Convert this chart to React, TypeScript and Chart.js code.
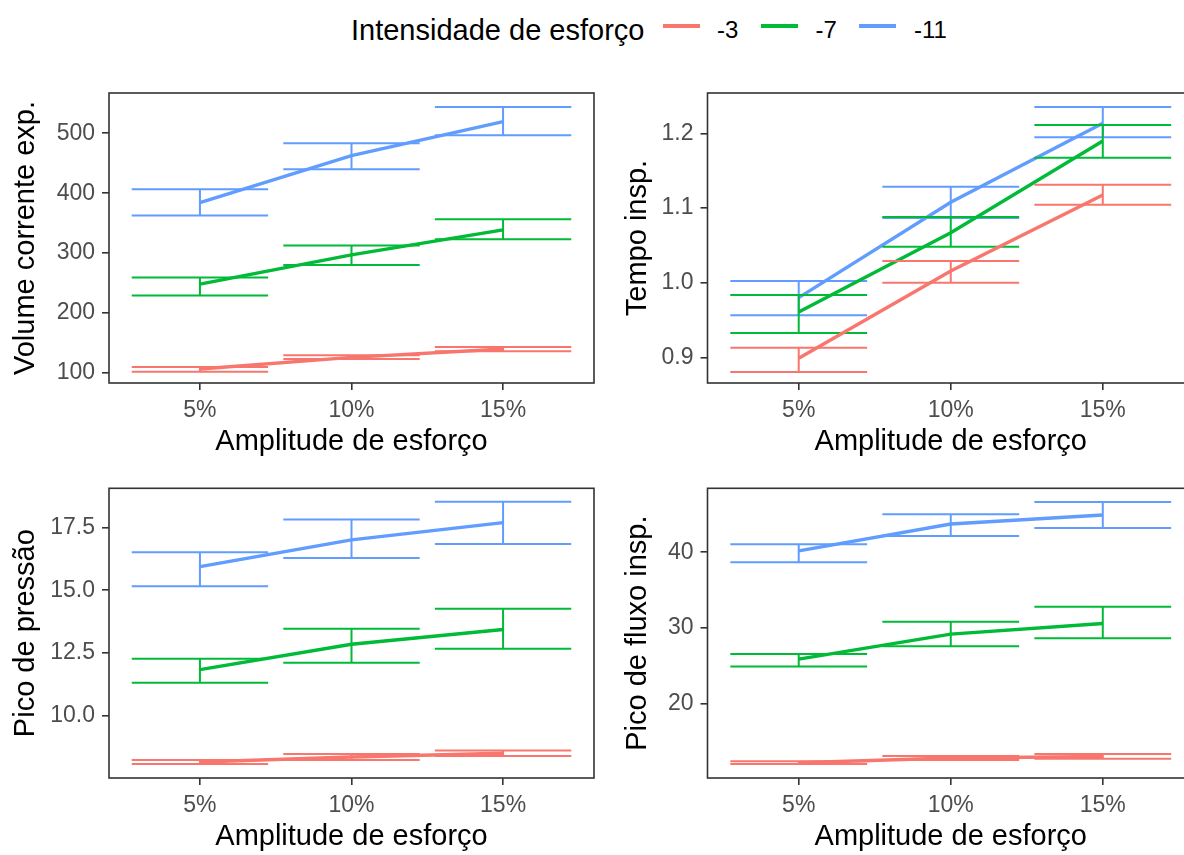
import React, { useEffect, useRef } from 'react';
import { Chart, registerables } from 'chart.js';

Chart.register(...registerables);

const FONT = '"Liberation Sans", Arial, sans-serif';

// Categories and groups
const amplitudes = ['5%', '10%', '15%'];
const intensities = ['-3', '-7', '-11'];
const seriesColors = ['#F8766D', '#00BA38', '#619CFF'];

// Volume corrente exp. — rows: -3, -7, -11
const volumeMean = [[106.7, 126.0, 140.0], [248.3, 297.2, 338.9], [384.3, 462.7, 519.4]];
const volumeLow = [[102.2, 123.3, 136.1], [229.4, 280.0, 323.3], [362.7, 440.0, 496.7]];
const volumeHigh = [[110.0, 129.4, 143.3], [259.4, 312.8, 356.7], [406.7, 483.3, 543.9]];
const volumeTicks = [100, 200, 300, 400, 500];
const volumeTickLabels = ['100', '200', '300', '400', '500'];

// Tempo insp.
const tempoMean = [[0.8987, 1.0155, 1.1174], [0.9607, 1.0669, 1.1897], [0.98, 1.1077, 1.2134]];
const tempoLow = [[0.8803, 1.0, 1.1044], [0.9325, 1.0482, 1.1674], [0.9563, 1.0865, 1.1946]];
const tempoHigh = [[0.9129, 1.029, 1.1311], [0.9834, 1.0878, 1.2111], [1.0022, 1.1285, 1.2352]];
const tempoTicks = [0.9, 1.0, 1.1, 1.2];
const tempoTickLabels = ['0.9', '1.0', '1.1', '1.2'];

// Pico de pressão
const pressaoMean = [[8.14, 8.34, 8.49], [11.83, 12.84, 13.43], [15.94, 17.01, 17.7]];
const pressaoLow = [[8.06, 8.22, 8.38], [11.3, 12.1, 12.66], [15.16, 16.29, 16.85]];
const pressaoHigh = [[8.22, 8.46, 8.6], [12.26, 13.46, 14.26], [16.52, 17.82, 18.53]];
const pressaoTicks = [10, 12.5, 15, 17.5];
const pressaoTickLabels = ['10.0', '12.5', '15.0', '17.5'];

// Pico de fluxo insp.
const fluxoMean = [[12.27, 12.9, 13.1], [25.92, 29.21, 30.62], [40.17, 43.72, 44.9]];
const fluxoLow = [[12.1, 12.63, 12.8], [24.95, 27.63, 28.68], [38.68, 42.14, 43.2]];
const fluxoHigh = [[12.45, 13.16, 13.42], [26.58, 30.83, 32.81], [41.05, 45.0, 46.6]];
const fluxoTicks = [20, 30, 40];
const fluxoTickLabels = ['20', '30', '40'];

const CAP_HALF = 0.45;

const panelBorder = {
  id: 'panelBorder',
  afterDatasetsDraw(chart: any) {
    const { left, top, right, bottom } = chart.chartArea;
    const ctx = chart.ctx;
    ctx.save();
    ctx.strokeStyle = '#333333';
    ctx.lineWidth = 1.6;
    ctx.strokeRect(left, top, right - left, bottom - top);
    ctx.restore();
  },
};

type PanelProps = {
  left: number;
  top: number;
  width: number;
  height: number;
  yAxisWidth: number;
  xAxisHeight: number;
  padTop: number;
  padRight: number;
  yTitlePad: number;
  xTitlePad: number;
  yTitle: string;
  yMin: number;
  yMax: number;
  yTicks: number[];
  yTickLabels: string[];
  means: number[][];
  lows: number[][];
  highs: number[][];
};

function Panel(p: PanelProps) {
  const ref = useRef<HTMLCanvasElement>(null);

  useEffect(() => {
    if (!ref.current) return;
    const datasets: any[] = [];
    seriesColors.forEach((color, s) => {
      const bars: any[] = [];
      amplitudes.forEach((_, i) => {
        const x = i + 1;
        const hi = p.highs[s][i];
        const lo = p.lows[s][i];
        bars.push(
          { x: x - CAP_HALF, y: hi }, { x: x + CAP_HALF, y: hi }, { x, y: null },
          { x, y: hi }, { x, y: lo }, { x, y: null },
          { x: x - CAP_HALF, y: lo }, { x: x + CAP_HALF, y: lo }, { x, y: null }
        );
      });
      datasets.push({
        type: 'line',
        data: bars,
        borderColor: color,
        borderWidth: 2,
        pointRadius: 0,
        spanGaps: false,
        fill: false,
        tension: 0,
      });
      datasets.push({
        type: 'line',
        data: p.means[s].map((y, i) => ({ x: i + 1, y })),
        borderColor: color,
        borderWidth: 3.4,
        pointRadius: 0,
        fill: false,
        tension: 0,
      });
    });

    const chart = new Chart(ref.current, {
      type: 'line',
      data: { datasets },
      plugins: [panelBorder],
      options: {
        animation: false,
        responsive: false,
        devicePixelRatio: 1,
        layout: { padding: { top: p.padTop, right: p.padRight, left: 0, bottom: 0 } },
        plugins: { legend: { display: false }, tooltip: { enabled: false } },
        scales: {
          x: {
            type: 'linear',
            min: 0.4,
            max: 3.6,
            bounds: 'data',
            afterBuildTicks: (scale: any) => {
              scale.ticks = amplitudes.map((_, i) => ({ value: i + 1 }));
            },
            afterFit: (scale: any) => {
              scale.height = p.xAxisHeight;
            },
            ticks: {
              callback: (_v: any, i: number) => amplitudes[i],
              color: '#4D4D4D',
              font: { family: FONT, size: 23 },
              padding: 7,
              maxRotation: 0,
              autoSkip: false,
            },
            grid: {
              drawOnChartArea: false,
              drawTicks: true,
              tickLength: 7,
              color: '#333333',
              lineWidth: 1.6,
            },
            border: { display: false },
            title: {
              display: true,
              text: 'Amplitude de esforço',
              color: '#000000',
              font: { family: FONT, size: 29 },
              padding: { top: 0, bottom: p.xTitlePad },
            },
          },
          y: {
            type: 'linear',
            min: p.yMin,
            max: p.yMax,
            bounds: 'data',
            afterBuildTicks: (scale: any) => {
              scale.ticks = p.yTicks.map((v) => ({ value: v }));
            },
            afterFit: (scale: any) => {
              scale.width = p.yAxisWidth;
            },
            ticks: {
              callback: (_v: any, i: number) => p.yTickLabels[i],
              color: '#4D4D4D',
              font: { family: FONT, size: 23 },
              padding: 7,
              autoSkip: false,
            },
            grid: {
              drawOnChartArea: false,
              drawTicks: true,
              tickLength: 7,
              color: '#333333',
              lineWidth: 1.6,
            },
            border: { display: false },
            title: {
              display: true,
              text: p.yTitle,
              color: '#000000',
              font: { family: FONT, size: 29 },
              padding: { top: p.yTitlePad, bottom: 0 },
            },
          },
        },
      } as any,
    });
    return () => chart.destroy();
  }, []);

  return (
    <canvas
      ref={ref}
      width={p.width}
      height={p.height}
      style={{ position: 'absolute', left: p.left, top: p.top, width: p.width, height: p.height }}
    />
  );
}

const leftCol = { left: 0, width: 602, yAxisWidth: 109, padRight: 8, yTitlePad: 8.6 };
const rightCol = { left: 600, width: 600, yAxisWidth: 107.5, padRight: 6, yTitlePad: 20.3 };
const topRow = { top: 60, height: 410, padTop: 33, xAxisHeight: 87, xTitlePad: 10.9 };
const bottomRow = { top: 455, height: 410, padTop: 33.3, xAxisHeight: 87, xTitlePad: 10.9 };

function Legend() {
  const keyLefts = [663, 761, 859];
  const labelLefts = [717, 815.5, 914];
  return (
    <>
      <span
        style={{
          position: 'absolute', left: 351, top: 13.8, fontFamily: FONT, fontSize: 29,
          lineHeight: '32.4px', color: '#000', whiteSpace: 'nowrap',
        }}
      >
        Intensidade de esforço
      </span>
      {intensities.map((lab, i) => (
        <React.Fragment key={lab}>
          <div
            style={{
              position: 'absolute', left: keyLefts[i], top: 24, width: 37, height: 4,
              background: seriesColors[i],
            }}
          />
          <span
            style={{
              position: 'absolute', left: labelLefts[i], top: 16.6, fontFamily: FONT, fontSize: 24,
              lineHeight: '26.8px', color: '#000', whiteSpace: 'nowrap',
            }}
          >
            {lab}
          </span>
        </React.Fragment>
      ))}
    </>
  );
}

export default function App() {
  return (
    <div
      style={{
        position: 'fixed', left: 0, top: 0, width: 1184, height: 855,
        overflow: 'hidden', background: '#ffffff',
      }}
    >
      <Legend />
      <Panel {...leftCol} {...topRow} yTitle="Volume corrente exp." yMin={83.3} yMax={567.2}
        yTicks={volumeTicks} yTickLabels={volumeTickLabels}
        means={volumeMean} lows={volumeLow} highs={volumeHigh} />
      <Panel {...rightCol} {...topRow} yTitle="Tempo insp." yMin={0.8656} yMax={1.254}
        yTicks={tempoTicks} yTickLabels={tempoTickLabels}
        means={tempoMean} lows={tempoLow} highs={tempoHigh} />
      <Panel {...leftCol} {...bottomRow} yTitle="Pico de pressão" yMin={7.5} yMax={19.07}
        yTicks={pressaoTicks} yTickLabels={pressaoTickLabels}
        means={pressaoMean} lows={pressaoLow} highs={pressaoHigh} />
      <Panel {...rightCol} {...bottomRow} yTitle="Pico de fluxo insp." yMin={10.26} yMax={48.42}
        yTicks={fluxoTicks} yTickLabels={fluxoTickLabels}
        means={fluxoMean} lows={fluxoLow} highs={fluxoHigh} />
    </div>
  );
}
